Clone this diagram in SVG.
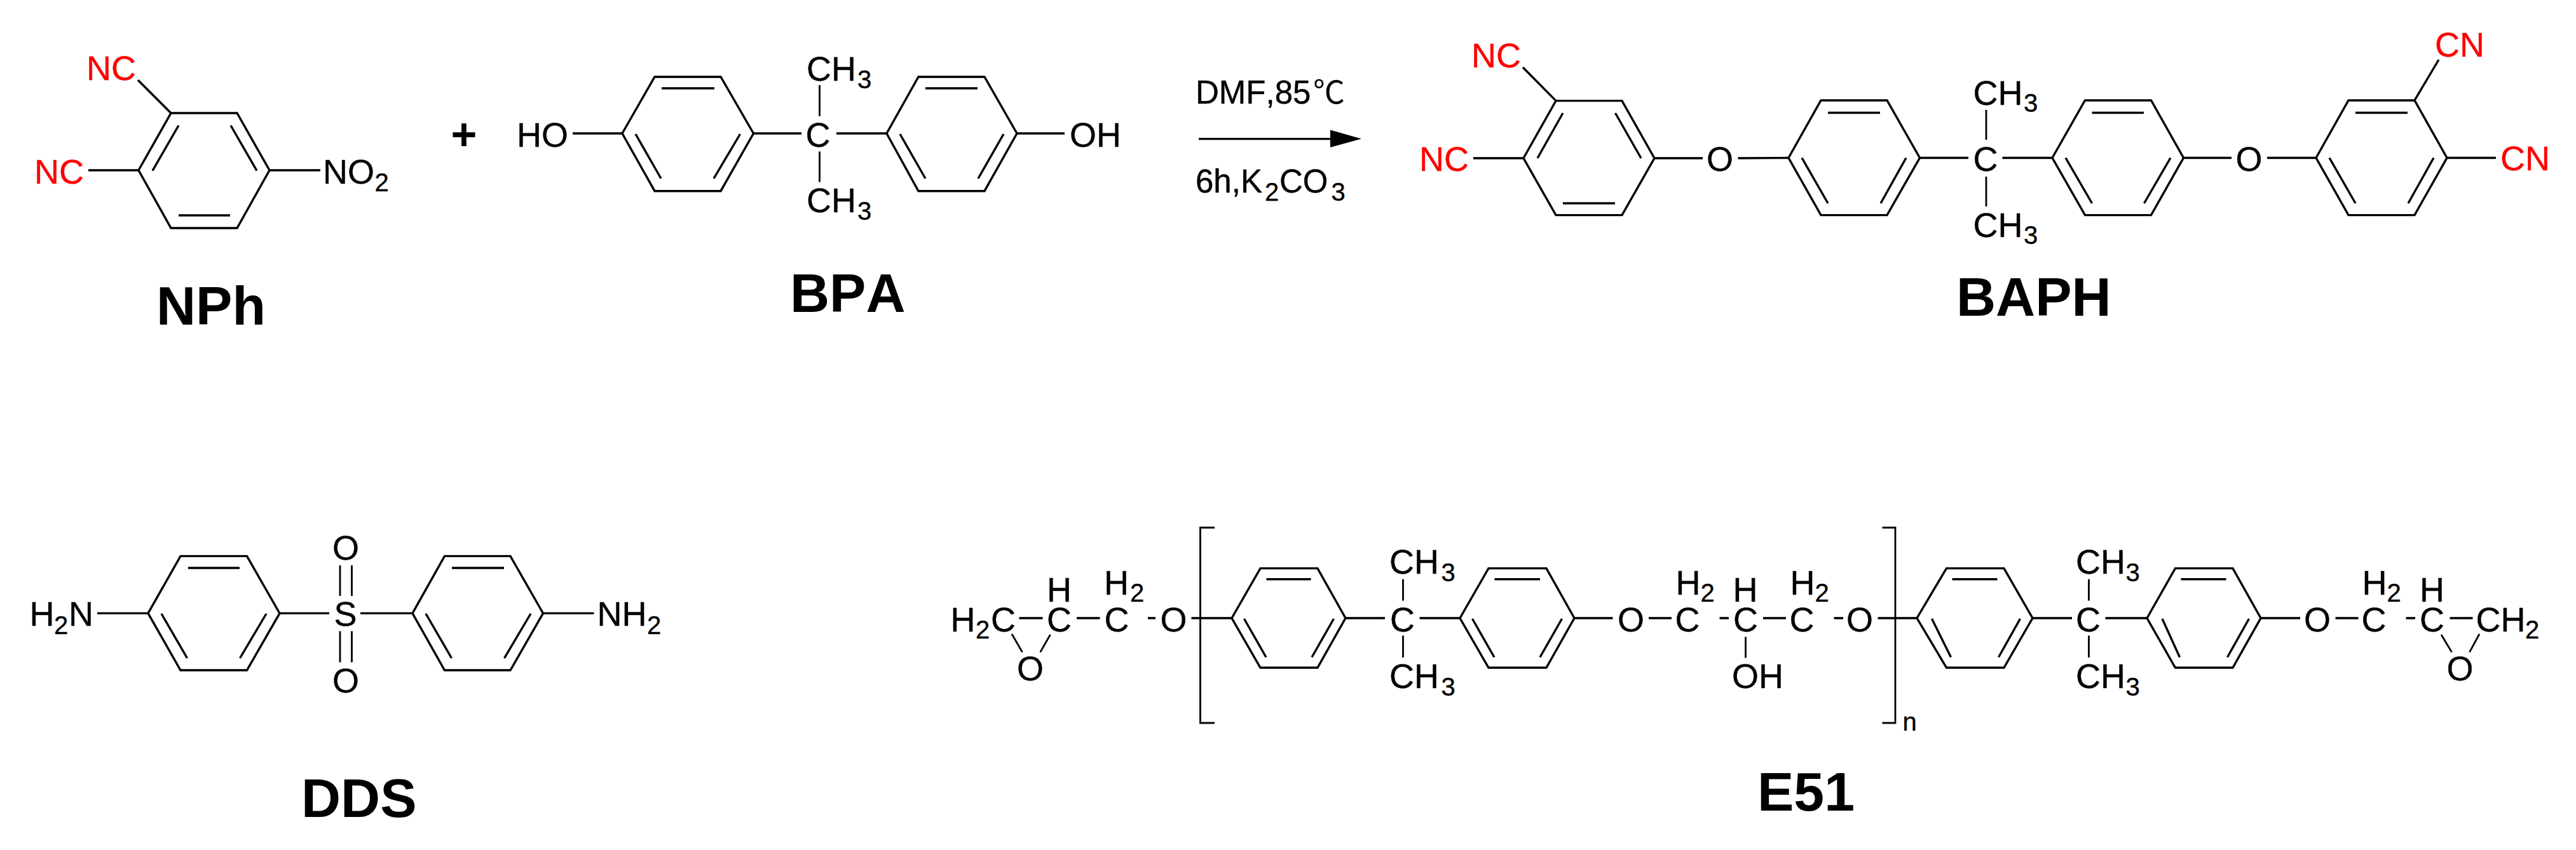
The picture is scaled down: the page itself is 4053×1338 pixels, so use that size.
<svg xmlns="http://www.w3.org/2000/svg" width="4053" height="1338" viewBox="0 0 4053 1338">
<style>
text{font-family:"Liberation Sans",Arial,sans-serif;font-size:54px;fill:#000;stroke:#000;stroke-width:.4;font-kerning:none}
.s{font-size:40px}
.c{font-size:51px}
.l{font-size:86px;font-weight:700;stroke-width:0}
.r{fill:#f00;stroke:#f00}
.b{fill:none;stroke:#000;stroke-width:3.4;stroke-miterlimit:10}
.t{stroke-width:2.8}
</style>
<rect width="4053" height="1338" fill="#fff"/>
<g id="NPh">
<path class="b" d="M218 268L269 178H373L424 268L373 359H269ZM281 197.500L240 268.600M363 197.500L404 268.600M281 339H362M269 178L217 126M218 268H139M424 268H504"/>
<text class="r" x="136" y="126">NC</text>
<text class="r" x="54" y="288.500">NC</text>
<text x="508" y="288.500">NO</text><text class="s" x="589.500" y="300.500">2</text>
<text class="l" x="246" y="511">NPh</text>
</g>
<g id="plus"><text x="730" y="236" style="font-size:70px;font-weight:700;stroke-width:0" text-anchor="middle">+</text></g>
<g id="BPA">
<path class="b" d="M979 210L1030 121H1134L1185.500 210L1134 300.700H1030ZM1041 139H1124M1000 211L1040 281M1164.500 211L1123 281M1395 210L1445 121H1549L1600 210L1549 300.700H1445ZM1456 139H1538M1416 211L1456 281M1579 211L1539 281M901 210H979M1185.500 210H1261M1316 210H1395M1600 210H1675"/>
<path class="b t" d="M1289.500 134V183M1289.500 238.600V286.400"/>
<text x="813" y="231">HO</text>
<text x="1683" y="231">OH</text>
<text x="1267.500" y="231">C</text>
<text x="1269" y="127">CH</text><text class="s" x="1349" y="138.600">3</text>
<text x="1269" y="334">CH</text><text class="s" x="1349" y="345.700">3</text>
<text class="l" x="1243" y="491">BPA</text>
</g>
<g id="conditions">
<text class="c" x="1881" y="162.500">DMF,85</text>
<text x="2066" y="162.500" style="font-size:50px;font-family:'Noto Sans CJK SC','Liberation Sans',sans-serif;stroke-width:0">℃</text>
<text class="c" x="1881" y="303">6h,K</text><text class="s" x="1990" y="316">2</text><text class="c" x="2013" y="303">CO</text><text class="s" x="2094.500" y="316">3</text>
</g>
<g id="connectors">
<path class="b" d="M1886 218.600H2096"/>
<path d="M2093 204.600L2142 218.600L2093 232Z" fill="#000"/>
</g>
<g id="BAPH">
<path class="b" d="M2397 249L2448 158.600H2552L2603 249L2552 338.600H2448ZM2459 178L2419 249M2541.500 178L2582 249M2459 320H2541M2448 158.600L2396 106M2397 249H2318M2603 249H2679M2734.500 249L2814 248.500"/>
<path class="b" d="M2814 248.500L2865 158H2969L3020.500 248.500L2969 338.600H2865ZM2876 177.500H2958M2835 248.500L2876 320M2999 248.500L2959 320M3020.500 248.500H3097M3150.500 248.500H3229"/>
<path class="b" d="M3229 248.500L3280.500 158H3384.500L3435.500 248.500L3384.500 338.600H3280.500ZM3291.500 177.500H3373M3250 248.500L3291.500 320M3415 248.500L3373.500 320M3435.500 248.500H3511M3567 248.500H3644"/>
<path class="b" d="M3644 248.500L3695 158H3799L3850 248.500L3799 338.600H3695ZM3706 177.500H3788M3665 248.500L3706 320M3829 248.500L3789 320M3799 158L3837 94M3850 248.500H3927"/>
<path class="b t" d="M3125 173V220M3125 278V325"/>
<text class="r" x="2315" y="105.700">NC</text>
<text class="r" x="2233" y="268.600">NC</text>
<text x="2685" y="268.600">O</text>
<text x="3104.500" y="268.600">C</text>
<text x="3104.500" y="165">CH</text><text class="s" x="3184" y="176">3</text>
<text x="3104.500" y="372.500">CH</text><text class="s" x="3184" y="384">3</text>
<text x="3517.500" y="268.600">O</text>
<text class="r" x="3831" y="88.600">CN</text>
<text class="r" x="3934" y="268">CN</text>
<text class="l" x="3078" y="497">BAPH</text>
</g>
<g id="DDS">
<path class="b" d="M233 965.400L284 875.400H388.500L440 965.400L388.500 1055H284ZM296 894H377M254 966L294.500 1036M419 966L377.500 1036M649 965.400L699.500 875.400H803L854.500 965.400L803 1055H699.500ZM711 894H793M670 966L710.500 1036M835 966L793.500 1036M153 965.400H233M440 965.400H518M567 965.400H649M854.500 965.400H934.500"/>
<path class="b t" d="M535 890V938M553.500 890V938M535 993.500V1042.600M553.500 993.500V1042.600"/>
<text x="46.500" y="985.300">H</text><text class="s" x="85" y="997.800">2</text><text x="108" y="985.300">N</text>
<text x="939.500" y="985.300">NH</text><text class="s" x="1018" y="997.800">2</text>
<text x="525.500" y="985.300">S</text>
<text x="523" y="880.700">O</text>
<text x="523" y="1089.600">O</text>
<text class="l" x="474" y="1285.500">DDS</text>
</g>
<g id="E51">
<path class="b" d="M1603.500 973H1640.500M1694 973H1730.500M1806 973H1818M1874.500 973H1938M2117 973H2179M2233.500 973H2297M2477 973H2537.500M2594 973H2630M2705.500 973H2720M2774 973H2810M2885.500 973H2900M2954.500 973H3016M3198 973H3260M3312.500 973H3378M3557 973H3619M3674.500 973H3710.500M3785.500 973H3800M3854.500 973H3890.500"/>
<path class="b t" d="M1592 998L1608.500 1026.600M1652.500 999L1636.700 1026.600M3841 999L3857.500 1026.600M3901 998L3885.500 1026.600M1911 830.500H1888.500V1138H1911M2961.500 830.500H2982V1138H2961.500M2207.500 911.700V945.500M2207.500 1000.600V1035M3286.500 911.700V945.500M3286.500 1000.600V1035M2746.500 1002.400V1035.500"/>
<path class="b" d="M1938 973L1983 894.600H2073L2117 973L2073 1051H1983ZM1992.500 911.700H2062.500M1957.500 974L1992 1034.500M2098.500 974L2064 1034.500"/>
<path class="b" d="M2297 973L2342 894.600H2433L2477 973L2433 1051H2342ZM2351.500 911.700H2423M2316.500 974L2351 1034.500M2457.500 974L2423 1034.500"/>
<path class="b" d="M3016 973L3062.500 894.600H3153L3198 973L3153 1051H3062.500ZM3071.500 911.700H3142.500M3039.500 974L3069.500 1034.500M3178.500 974L3144.500 1034.500"/>
<path class="b" d="M3378 973L3422.500 894.600H3513L3557 973L3513 1051H3422.500ZM3431.500 911.700H3502.500M3402 974L3429.500 1034.500M3538.500 974L3504.500 1034.500"/>
<text x="1495.500" y="993.500">H</text><text class="s" x="1535" y="1005">2</text><text x="1559" y="993.500">C</text>
<text x="1647" y="993.500">C</text><text x="1647" y="947">H</text>
<text x="1737.500" y="993.500">C</text><text x="1737" y="936">H</text><text class="s" x="1778" y="947">2</text>
<text x="1825.500" y="993.500">O</text>
<text x="1600" y="1071">O</text>
<text x="2187" y="993.500">C</text>
<text x="2186" y="902.800">CH</text><text class="s" x="2267.500" y="915">3</text>
<text x="2186" y="1082.500">CH</text><text class="s" x="2267.500" y="1095">3</text>
<text x="2545" y="993.500">O</text>
<text x="2635.500" y="993.500">C</text><text x="2636.500" y="936">H</text><text class="s" x="2675.500" y="947">2</text>
<text x="2727" y="993.500">C</text><text x="2726.500" y="947">H</text>
<text x="2815.500" y="993.500">C</text><text x="2816.500" y="936">H</text><text class="s" x="2855.500" y="947">2</text>
<text x="2905" y="993.500">O</text>
<text x="2725" y="1083">OH</text>
<text class="s" x="2993.500" y="1150">n</text>
<text x="3266" y="993.500">C</text>
<text x="3266" y="902.800">CH</text><text class="s" x="3344.500" y="915">3</text>
<text x="3266" y="1082.500">CH</text><text class="s" x="3344.500" y="1095">3</text>
<text x="3625" y="993.500">O</text>
<text x="3715.500" y="993.500">C</text><text x="3716.500" y="936">H</text><text class="s" x="3755.500" y="947">2</text>
<text x="3807" y="993.500">C</text><text x="3807" y="947">H</text>
<text x="3895.500" y="993.500">CH</text><text class="s" x="3973" y="1005">2</text>
<text x="3849.500" y="1071">O</text>
<text class="l" x="2765" y="1276">E51</text>
</g>
</svg>
